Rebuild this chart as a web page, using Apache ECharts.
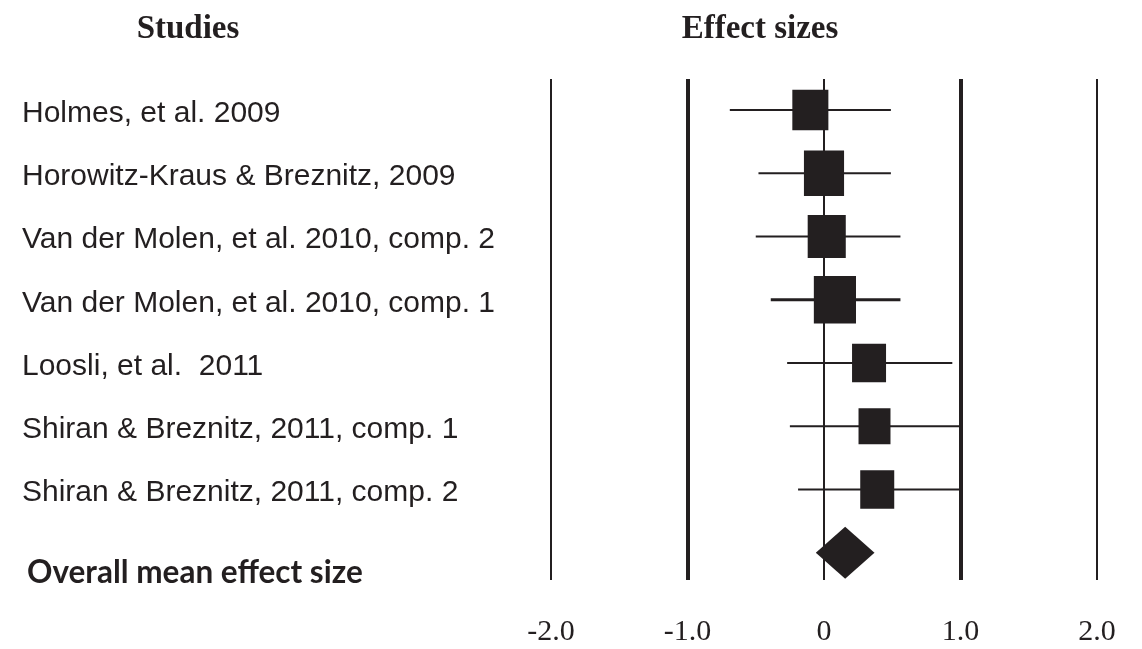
<!DOCTYPE html>
<html>
<head>
<meta charset="utf-8">
<script src="https://cdn.jsdelivr.net/npm/echarts@6/dist/echarts.min.js"></script>
<style>html,body{margin:0;padding:0;background:#fff}#c{width:1142px;height:649px}</style>
</head>
<body>
<div id="c"></div>
<script>
const studies = [
  'Holmes, et al. 2009',
  'Horowitz-Kraus & Breznitz, 2009',
  'Van der Molen, et al. 2010, comp. 2',
  'Van der Molen, et al. 2010, comp. 1',
  'Loosli, et al.  2011',
  'Shiran & Breznitz, 2011, comp. 1',
  'Shiran & Breznitz, 2011, comp. 2'
];
const effects = [-0.10, 0.00, 0.02, 0.08, 0.33, 0.37, 0.39];
const ciLow   = [-0.69, -0.48, -0.50, -0.39, -0.27, -0.25, -0.19];
const ciHigh  = [0.49, 0.49, 0.56, 0.56, 0.94, 1.00, 1.00];
const weights = [1.06, 1.18, 1.12, 1.24, 1.00, 0.94, 1.00];
const overallLabel = 'Overall mean effect size';
const overallEffect = 0.155;
const overallLow = -0.06;
const overallHigh = 0.37;
const refLines = [-2, -1, 0, 1, 2];
const tickLabels = ['-2.0', '-1.0', '0', '1.0', '2.0'];
const headers = ['Studies', 'Effect sizes'];

const INK = '#231f20';
const ciWidths = [2, 2, 2, 3, 2, 2, 2];

const chart = echarts.init(document.getElementById('c'));

const studyData = studies.map((s, i) => [effects[i], i + 1, ciLow[i], ciHigh[i], weights[i], i]);

chart.setOption({
  animation: false,
  backgroundColor: '#fff',
  grid: { left: 551, right: 45, top: 79, bottom: 69, containLabel: false },
  xAxis: {
    type: 'value', min: -2, max: 2, interval: 1,
    axisLine: { show: false }, axisTick: { show: false }, splitLine: { show: false },
    axisLabel: {
      margin: 37,
      color: INK,
      fontFamily: 'Liberation Serif',
      fontSize: 30,
      formatter: v => tickLabels[refLines.indexOf(v)] ?? ''
    }
  },
  yAxis: {
    type: 'value', inverse: true, min: 0.51, max: 8.43,
    axisLine: { show: false }, axisTick: { show: false }, splitLine: { show: false },
    axisLabel: {
      customValues: studies.map((s, i) => i + 1),
      formatter: v => '{s|' + (studies[Math.round(v) - 1] || '') + '}',
      align: 'left',
      margin: 529,
      color: INK,
      fontFamily: 'Liberation Sans',
      fontSize: 30,
      rich: {
        s: { color: INK, fontFamily: 'Liberation Sans', fontSize: 30, padding: [7, 0, 0, 0] }
      }
    }
  },
  graphic: [
    { type: 'text', x: 188, y: 29, style: { text: headers[0], textAlign: 'center', textVerticalAlign: 'middle', fill: INK, font: 'bold 33px "Liberation Serif"' } },
    { type: 'text', x: 760, y: 29, style: { text: headers[1], textAlign: 'center', textVerticalAlign: 'middle', fill: INK, font: 'bold 33px "Liberation Serif"' } },
    { type: 'text', x: 27, y: 573, style: { text: overallLabel, textAlign: 'left', textVerticalAlign: 'middle', fill: INK, font: 'bold 31.5px Lato' } }
  ],
  series: [
    {
      type: 'line', data: [], z: 1, silent: true,
      markLine: {
        silent: true, symbol: 'none', label: { show: false },
        data: refLines.map(v => ({ xAxis: v, lineStyle: { color: INK, type: 'solid', width: Math.abs(v) === 1 ? 4 : 2 } }))
      }
    },
    {
      type: 'custom', z: 3,
      data: studyData,
      encode: { x: [0, 2, 3], y: 1 },
      renderItem: (params, api) => {
        const row = api.value(1);
        const pE = api.coord([api.value(0), row]);
        const pL = api.coord([api.value(2), row]);
        const pH = api.coord([api.value(3), row]);
        const w = api.value(4) * 34;
        const h = w * 1.13;
        return {
          type: 'group',
          children: [
            { type: 'line', shape: { x1: pL[0], y1: pL[1], x2: pH[0], y2: pH[1] }, style: { stroke: INK, lineWidth: ciWidths[api.value(5)] } },
            { type: 'rect', shape: { x: pE[0] - w / 2, y: pE[1] - h / 2, width: w, height: h }, style: { fill: INK } }
          ]
        };
      }
    },
    {
      type: 'custom', z: 3,
      data: [[overallEffect, studies.length + 1, overallLow, overallHigh]],
      encode: { x: [0, 2, 3], y: 1 },
      renderItem: (params, api) => {
        const row = api.value(1);
        const pE = api.coord([api.value(0), row]);
        const pL = api.coord([api.value(2), row]);
        const pH = api.coord([api.value(3), row]);
        const hh = 26;
        return {
          type: 'polygon',
          shape: { points: [[pL[0], pE[1]], [pE[0], pE[1] - hh], [pH[0], pE[1]], [pE[0], pE[1] + hh]] },
          style: { fill: INK }
        };
      }
    }
  ]
});
</script>
</body>
</html>
